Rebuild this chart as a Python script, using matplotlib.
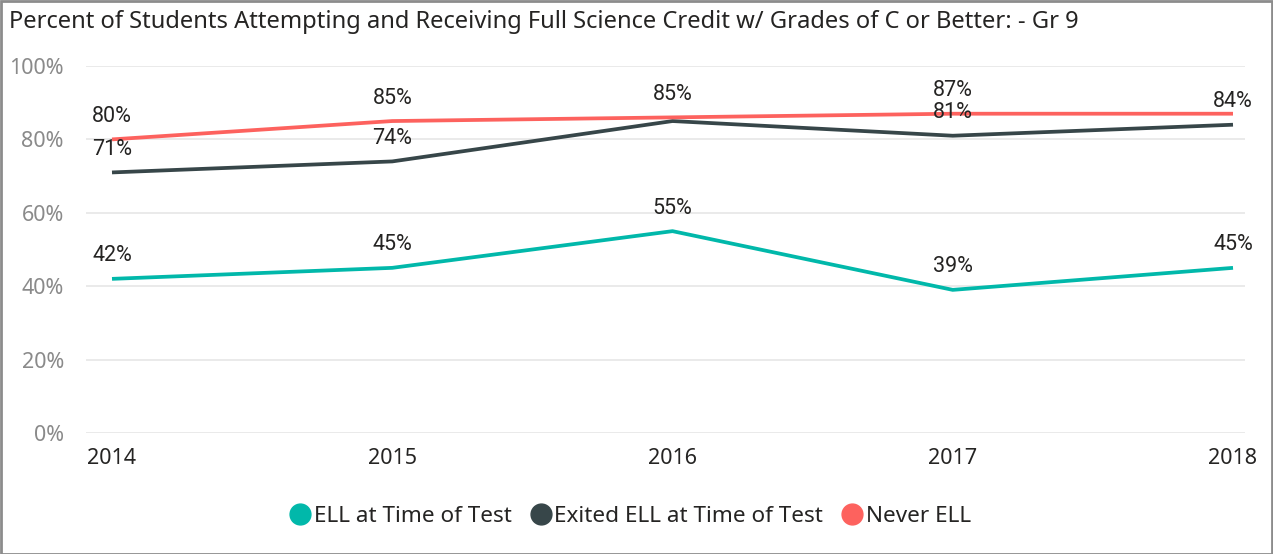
import matplotlib
matplotlib.use("Agg")
import matplotlib.pyplot as plt
from matplotlib.lines import Line2D
from matplotlib.patches import Rectangle

years = [2014, 2015, 2016, 2017, 2018]
series_names = ["ELL at Time of Test", "Exited ELL at Time of Test", "Never ELL"]
ell = [42, 45, 55, 39, 45]
exited = [71, 74, 85, 81, 84]
never = [80, 85, 86, 87, 87]
ell_labels = ["42%", "45%", "55%", "39%", "45%"]
exited_labels = ["71%", "74%", None, "81%", "84%"]
never_labels = ["80%", "85%", "85%", "87%", None]
yticks = [0, 20, 40, 60, 80, 100]
title = "Percent of Students Attempting and Receiving Full Science Credit w/ Grades of C or Better: - Gr 9"

colors = ["#01B8AA", "#374649", "#FD625E"]

W, H = 1273, 554
fig = plt.figure(figsize=(W / 100, H / 100), dpi=100)
ax = fig.add_axes([86 / W, 1 - 433 / H, (1245 - 86) / W, (433 - 66) / H])

ax.set_xlim(2014 - 26 / 280.25, 2018 + 12 / 280.25)
ax.set_ylim(0, 100)

for s, c in zip([ell, exited, never], colors):
    ax.plot(years, s, color=c, lw=2.7, solid_capstyle="butt", zorder=3)

for s, labs in zip([ell, exited, never], [ell_labels, exited_labels, never_labels]):
    for x, y, l in zip(years, s, labs):
        if l is None:
            continue
        ax.annotate(l, (x, y), xytext=(0, 16.5), textcoords="offset points",
                    ha="center", va="center", fontsize=15.5, color="#252423",
                    family="Roboto", zorder=4)

ax.set_yticks(yticks)
ax.set_yticklabels([f"{v}%" for v in yticks], color="#8a8a8a", fontsize=15.5, family="Noto Sans")
ax.set_xticks(years)
ax.set_xticklabels([str(y) for y in years], color="#252423", fontsize=15.5, family="Noto Sans")
ax.tick_params(axis="both", length=0)
ax.tick_params(axis="y", pad=16)
ax.tick_params(axis="x", pad=11)
ax.grid(axis="y", color="#e6e6e6", lw=1.2)
ax.set_axisbelow(True)
for sp in ax.spines.values():
    sp.set_visible(False)

fig.text(9 / W, 1 - 22 / H, title, fontsize=17.1, color="#252423", family="Noto Sans",
         ha="left", va="center")

handles = [Line2D([], [], marker="o", ls="none", markersize=15, color=c) for c in colors]
fig.legend(handles, series_names, loc="center", bbox_to_anchor=(630 / W, 1 - 516 / H),
           ncol=3, frameon=False, handletextpad=0.1, columnspacing=0.8, handlelength=1.0,
           prop={"family": "Noto Sans", "size": 16.2}, labelcolor="#252423")

fig.patches.append(Rectangle((0.5 / W, 0.5 / H), 1 - 1.5 / W, 1 - 1.5 / H, transform=fig.transFigure,
                             fill=False, edgecolor="#8c8c8c", lw=2))

fig.savefig("out.png", dpi=100, facecolor="white")
